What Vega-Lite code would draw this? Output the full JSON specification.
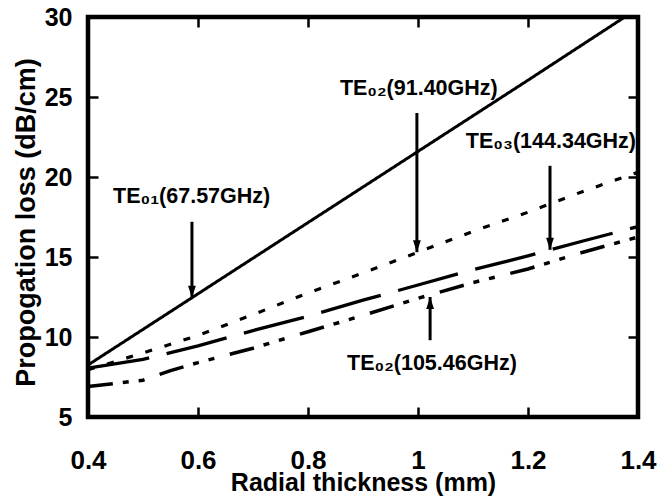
{
  "$schema": "https://vega.github.io/schema/vega-lite/v6.json",
  "width": 550,
  "height": 400,
  "autosize": {"type": "none"},
  "padding": {"left": 88, "top": 17, "right": 19, "bottom": 86},
  "background": "white",
  "config": {
    "font": "Liberation Sans",
    "view": {"stroke": "black", "strokeWidth": 4.5},
    "axis": {"domain": false, "grid": false, "tickColor": "black", "tickWidth": 2.5, "labelColor": "black", "titleColor": "black", "labelFont": "Liberation Sans", "titleFont": "Liberation Sans"}
  },
  "datasets": {
    "lines": [
      {"s": "TE01", "x": 0.4, "y": 8.25}, {"s": "TE01", "x": 0.6, "y": 12.7}, {"s": "TE01", "x": 0.8, "y": 17.15}, {"s": "TE01", "x": 1.0, "y": 21.6}, {"s": "TE01", "x": 1.2, "y": 26.05}, {"s": "TE01", "x": 1.376, "y": 30},
      {"s": "TE02a", "x": 0.4, "y": 7.95}, {"s": "TE02a", "x": 0.5, "y": 9.0}, {"s": "TE02a", "x": 0.6, "y": 10.1}, {"s": "TE02a", "x": 0.7, "y": 11.4}, {"s": "TE02a", "x": 0.8, "y": 12.75}, {"s": "TE02a", "x": 0.9, "y": 14.0}, {"s": "TE02a", "x": 1.0, "y": 15.3}, {"s": "TE02a", "x": 1.1, "y": 16.6}, {"s": "TE02a", "x": 1.2, "y": 17.8}, {"s": "TE02a", "x": 1.3, "y": 19.1}, {"s": "TE02a", "x": 1.4, "y": 20.3},
      {"s": "TE03", "x": 0.4, "y": 8.05}, {"s": "TE03", "x": 0.5, "y": 8.6}, {"s": "TE03", "x": 0.6, "y": 9.45}, {"s": "TE03", "x": 0.7, "y": 10.4}, {"s": "TE03", "x": 0.8, "y": 11.3}, {"s": "TE03", "x": 0.9, "y": 12.3}, {"s": "TE03", "x": 1.0, "y": 13.25}, {"s": "TE03", "x": 1.1, "y": 14.2}, {"s": "TE03", "x": 1.2, "y": 15.07}, {"s": "TE03", "x": 1.3, "y": 16.0}, {"s": "TE03", "x": 1.4, "y": 16.9},
      {"s": "TE02b", "x": 0.4, "y": 6.9}, {"s": "TE02b", "x": 0.45, "y": 7.1}, {"s": "TE02b", "x": 0.5, "y": 7.3}, {"s": "TE02b", "x": 0.55, "y": 7.9}, {"s": "TE02b", "x": 0.6, "y": 8.4}, {"s": "TE02b", "x": 0.7, "y": 9.3}, {"s": "TE02b", "x": 0.8, "y": 10.33}, {"s": "TE02b", "x": 0.9, "y": 11.35}, {"s": "TE02b", "x": 1.0, "y": 12.42}, {"s": "TE02b", "x": 1.1, "y": 13.4}, {"s": "TE02b", "x": 1.2, "y": 14.25}, {"s": "TE02b", "x": 1.3, "y": 15.3}, {"s": "TE02b", "x": 1.4, "y": 16.25}
    ],
    "arrows": [
      {"a": "TE01", "x": 0.589, "tail": 17.2, "tip": 12.45, "dir": "down"},
      {"a": "TE02a", "x": 0.998, "tail": 24.0, "tip": 15.3, "dir": "down"},
      {"a": "TE03", "x": 1.24, "tail": 20.7, "tip": 15.45, "dir": "down"},
      {"a": "TE02b", "x": 1.022, "tail": 9.8, "tip": 12.5, "dir": "up"}
    ],
    "labels": [
      {"t": "TE₀₁(67.57GHz)", "x": 0.4455, "y": 18.37},
      {"t": "TE₀₂(91.40GHz)", "x": 0.858, "y": 25.1},
      {"t": "TE₀₃(144.34GHz)", "x": 1.087, "y": 21.8},
      {"t": "TE₀₂(105.46GHz)", "x": 0.871, "y": 7.94}
    ]
  },
  "layer": [
    {
      "data": {"name": "lines"},
      "mark": {"type": "line", "color": "black", "strokeCap": "butt"},
      "encoding": {
        "x": {"field": "x", "type": "quantitative", "scale": {"domain": [0.4, 1.4], "nice": false, "zero": false},
          "axis": {"orient": "bottom", "values": [0.4, 0.6, 0.8, 1, 1.2, 1.4], "format": "~g", "title": "Radial thickness (mm)", "tickSize": -10, "labelPadding": 40, "labelFontSize": 26, "labelFontWeight": "bold", "labelFlush": false, "labelOverlap": false, "titleFontSize": 25, "titleFontWeight": "bold", "titleBaseline": "alphabetic", "titleY": 73}},
        "y": {"field": "y", "type": "quantitative", "scale": {"domain": [5, 30], "nice": false, "zero": false},
          "axis": {"orient": "left", "values": [5, 10, 15, 20, 25, 30], "format": "~g", "title": "Propogation loss (dB/cm)", "tickSize": -10, "labelPadding": 26, "labelFontSize": 25, "labelFontWeight": "bold", "labelFlush": false, "labelOverlap": false, "titleFontSize": 27, "titleFontWeight": "bold", "titleBaseline": "middle", "titleX": -62, "titleY": 205}},
        "detail": {"field": "s"},
        "order": {"field": "x", "type": "quantitative"},
        "strokeDash": {"field": "s", "type": "nominal", "scale": {"domain": ["TE01", "TE02a", "TE03", "TE02b"], "range": [[1, 0], [7, 13], [62, 18], [25, 10, 6, 10, 6, 16]]}, "legend": null},
        "strokeWidth": {"field": "s", "type": "nominal", "scale": {"domain": ["TE01", "TE02a", "TE03", "TE02b"], "range": [3, 3.5, 5.5, 3.5]}, "legend": null}
      }
    },
    {
      "data": {"name": "arrows"},
      "mark": {"type": "rule", "color": "black", "strokeWidth": 3},
      "encoding": {
        "x": {"field": "x", "type": "quantitative", "scale": {"domain": [0.4, 1.4], "nice": false, "zero": false},
          "axis": {"orient": "top", "values": [0.6, 0.8, 1, 1.2], "labels": false, "title": null, "tickSize": -10}},
        "y": {"field": "tail", "type": "quantitative", "scale": {"domain": [5, 30], "nice": false, "zero": false},
          "axis": {"orient": "right", "values": [10, 15, 20, 25], "labels": false, "title": null, "tickSize": -10}},
        "y2": {"field": "tip"}
      }
    },
    {
      "data": {"name": "arrows"},
      "transform": [{"filter": "datum.dir === 'down'"}],
      "mark": {"type": "point", "filled": true, "color": "black", "opacity": 1, "size": 144, "shape": "M-0.65,-1L0.65,-1L0,1Z", "yOffset": -6, "strokeWidth": 0},
      "encoding": {
        "x": {"field": "x", "type": "quantitative", "axis": null},
        "y": {"field": "tip", "type": "quantitative", "axis": null}
      }
    },
    {
      "data": {"name": "arrows"},
      "transform": [{"filter": "datum.dir === 'up'"}],
      "mark": {"type": "point", "filled": true, "color": "black", "opacity": 1, "size": 144, "shape": "M-0.65,1L0.65,1L0,-1Z", "yOffset": 6, "strokeWidth": 0},
      "encoding": {
        "x": {"field": "x", "type": "quantitative", "axis": null},
        "y": {"field": "tip", "type": "quantitative", "axis": null}
      }
    },
    {
      "data": {"name": "labels"},
      "mark": {"type": "text", "align": "left", "baseline": "alphabetic", "fontSize": 21.5, "fontWeight": "bold", "font": "Liberation Sans", "color": "black"},
      "encoding": {
        "x": {"field": "x", "type": "quantitative", "axis": null},
        "y": {"field": "y", "type": "quantitative", "axis": null},
        "text": {"field": "t"}
      }
    }
  ],
  "resolve": {"axis": {"x": "independent", "y": "independent"}}
}
